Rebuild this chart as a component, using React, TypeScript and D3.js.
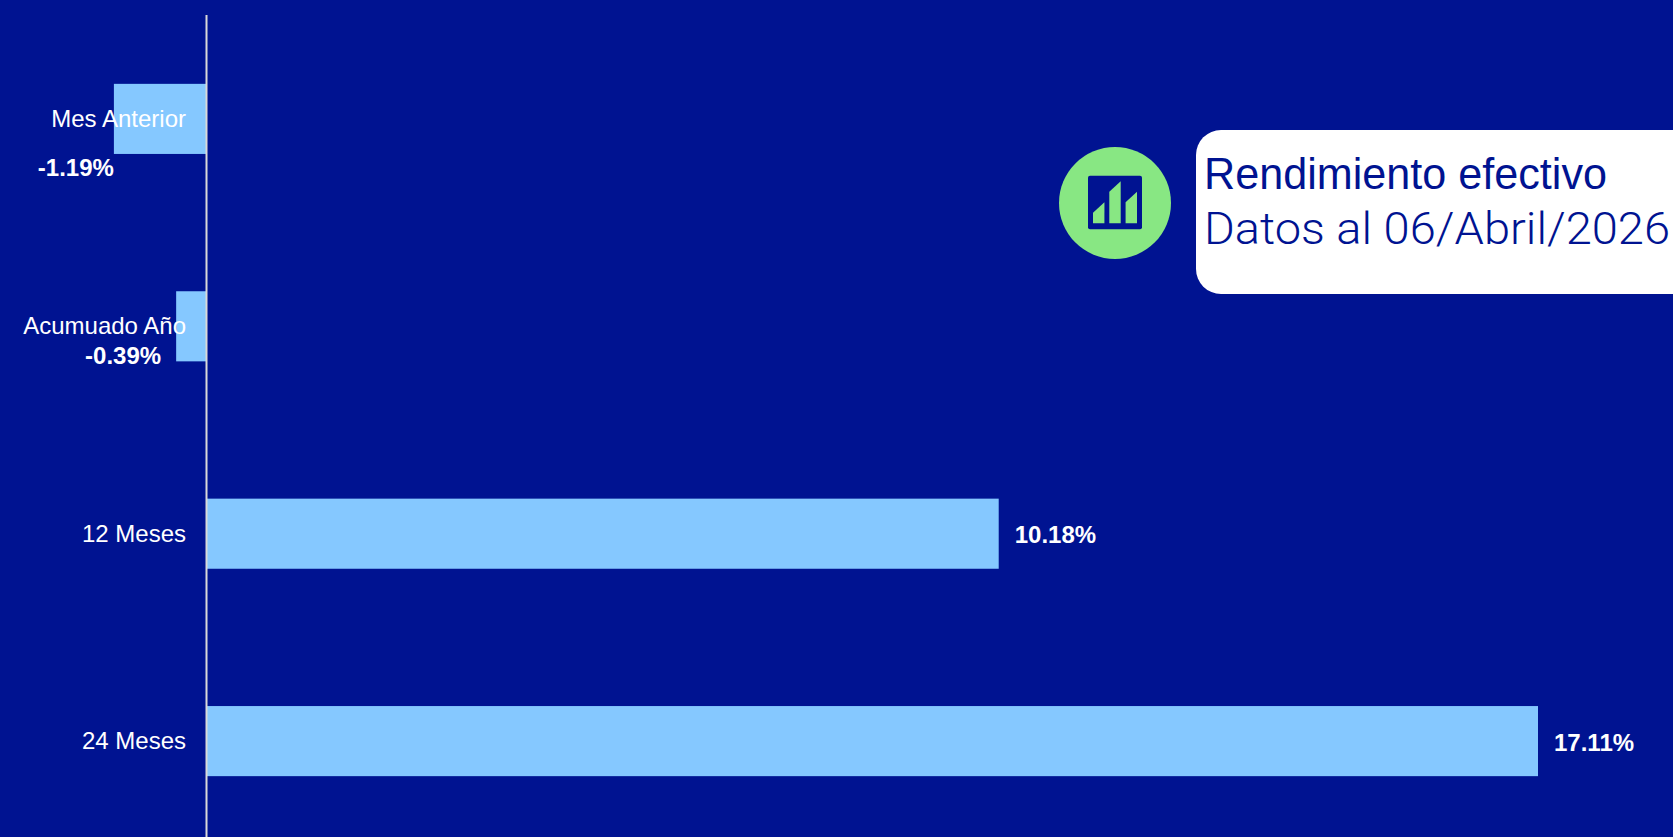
import React from "react";
import * as d3 from "d3";

const categories = ["Mes Anterior", "Acumuado Año", "12 Meses", "24 Meses"];
const values = [-1.19, -0.39, 10.18, 17.11];
const valueLabels = ["-1.19%", "-0.39%", "10.18%", "17.11%"];
const titleLines = ["Rendimiento efectivo", "Datos al 06/Abril/2026"];
const iconHeights = [0.5, 1, 0.75];

const W = 1673, H = 837;
const BG = "#001391", BAR = "#85C8FF", GREEN = "#88E783";

export default function App() {
  const x = d3.scaleLinear().domain([0, 17.11]).range([206.5, 1538]);
  const y = d3.scaleBand<string>().domain(categories).range([15.2, 844.8]).paddingInner(0.662).paddingOuter(0.331);
  const ix = d3.scaleBand<number>().domain([0, 1, 2]).range([1093, 1137]).paddingInner(0.3);
  const iy = d3.scaleLinear().domain([0, 1]).range([223.3, 181.3]);
  const font = "'Liberation Sans', Arial, sans-serif";
  return (
    <svg width={W} height={H} viewBox={`0 0 ${W} ${H}`} style={{ position: "fixed", left: 0, top: 0, display: "block" }}>
      <rect width={W} height={H} fill={BG} />
      {values.map((v, i) => {
        const c = categories[i];
        const top = y(c)!;
        const mid = top + y.bandwidth() / 2;
        const neg = v < 0;
        return (
          <g key={c}>
            <rect x={Math.min(x(v), x(0))} y={top} width={Math.abs(x(v) - x(0))} height={y.bandwidth()} fill={BAR} />
            <text x={186} y={mid + 8} textAnchor="end" fill="#fff" fontFamily={font} fontSize={24}>{c}</text>
            <text x={neg ? x(v) - (i === 0 ? 0 : 15) : x(v) + 16} y={neg ? top + y.bandwidth() + (i === 0 ? 22 : 3) : mid + 9.5}
              textAnchor={neg ? "end" : "start"} fill="#fff" fontFamily={font} fontSize={24} fontWeight={700}>{valueLabels[i]}</text>
          </g>
        );
      })}
      <line x1={x(0)} x2={x(0)} y1={15} y2={H} stroke="#d9d9d9" strokeWidth={2} />
      <circle cx={1115} cy={203} r={56} fill={GREEN} />
      <rect x={1088} y={175.7} width={54} height={53.5} rx={2} fill={BG} />
      {iconHeights.map((h, i) => {
        const l = ix(i)!, r = l + ix.bandwidth(), t = iy(h), b = iy(0);
        return <path key={i} d={d3.line()([[l, b], [l, t + 10.5], [r, t], [r, b]]) + "Z"} fill={GREEN} />;
      })}
      <path d="M1196 155 a25 25 0 0 1 25 -25 H1673 V294 H1221 a25 25 0 0 1 -25 -25 Z" fill="#fff" />
      <text x={1204} y={189} fill={BG} fontFamily="'Liberation Sans'" fontSize={44} textLength={403} lengthAdjust="spacingAndGlyphs">{titleLines[0]}</text>
      <text x={1204} y={244} fill={BG} fontFamily="Roboto" fontWeight={300} fontSize={45} textLength={466} lengthAdjust="spacingAndGlyphs">{titleLines[1]}</text>
    </svg>
  );
}
